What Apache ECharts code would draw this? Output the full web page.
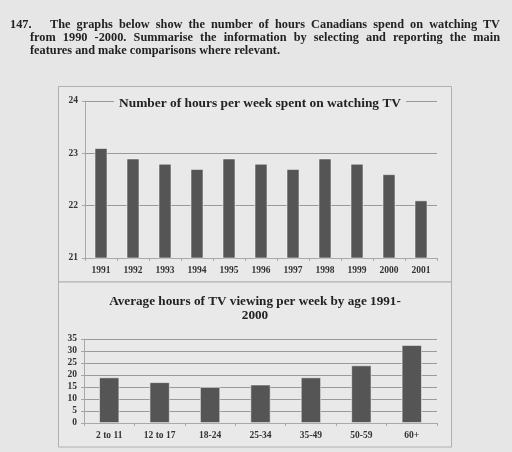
<!DOCTYPE html>
<html>
<head>
<meta charset="utf-8">
<script src="https://cdn.jsdelivr.net/npm/echarts@6/dist/echarts.min.js"></script>
<style>
  html, body { margin: 0; padding: 0; background: #e6e6e6; }
  #wrap { position: relative; width: 512px; height: 452px; overflow: hidden; }
  #chart { position: absolute; left: 0; top: 0; width: 512px; height: 452px; }
  .hdr { position: absolute; font-family: "Liberation Serif", serif; font-weight: bold; font-size: 12.3px; color: #222; white-space: nowrap; line-height: 13px; }
  .just { text-align: justify; text-align-last: justify; white-space: normal; }
</style>
</head>
<body>
<div id="wrap">
  <div id="chart"></div>
  <div class="hdr" style="left:10px; top:18px;">147.</div>
  <div class="hdr just" style="left:50px; top:18px; width:450px;">The graphs below show the number of hours Canadians spend on watching TV</div>
  <div class="hdr just" style="left:30px; top:31px; width:470px;">from 1990 -2000. Summarise the information by selecting and reporting the main</div>
  <div class="hdr" style="left:30px; top:44px;">features and make comparisons where relevant.</div>
</div>
<script>
const years = ['1991','1992','1993','1994','1995','1996','1997','1998','1999','2000','2001'];
const hoursByYear = [23.1, 22.9, 22.8, 22.7, 22.9, 22.8, 22.7, 22.9, 22.8, 22.6, 22.1];
const ageGroups = ['2 to 11','12 to 17','18-24','25-34','35-49','50-59','60+'];
const hoursByAge = [19, 17, 15, 16, 19, 24, 32.5];
const title1 = 'Number of hours per week spent on watching TV';
const title2 = 'Average hours of TV viewing per week by age 1991-\n2000';

const FONT = '"Liberation Serif", serif';
const INNER = '#e9e9e9';
const chart = echarts.init(document.getElementById('chart'), null, { renderer: 'canvas' });

const axisLabelY = { fontFamily: FONT, fontWeight: 'bold', fontSize: 9.5, color: '#333', margin: 7 };
const axisLabelX = { fontFamily: FONT, fontWeight: 'bold', fontSize: 9.5, color: '#333', margin: 8 };
const axisLine = { show: true, lineStyle: { color: '#a8a8a8', width: 1 } };
const axisTick = { show: true, length: 3, lineStyle: { color: '#a8a8a8' } };
const splitLine = { show: true, lineStyle: { color: '#9a9a9a', width: 1 } };
const barStyle = { color: '#555555', borderColor: 'rgba(245,245,245,0.7)', borderWidth: 0.8 };

chart.setOption({
  backgroundColor: 'transparent',
  animation: false,
  graphic: [
    { type: 'rect', shape: { x: 58.5, y: 86.5, width: 393, height: 195.5 }, style: { fill: INNER, stroke: '#b0b0b0', lineWidth: 1 }, z: -10 },
    { type: 'rect', shape: { x: 58.5, y: 282, width: 393, height: 165 }, style: { fill: INNER, stroke: '#b0b0b0', lineWidth: 1 }, z: -10 }
  ],
  title: [
    { text: title1, left: 255, top: 96, textAlign: 'center', padding: [1, 5],
      backgroundColor: INNER,
      textStyle: { fontFamily: FONT, fontWeight: 'bold', fontSize: 13.4, color: '#222' } },
    { text: title2, left: 255, top: 295, textAlign: 'center', padding: 0,
      textStyle: { fontFamily: FONT, fontWeight: 'bold', fontSize: 13.2, lineHeight: 13.5, color: '#222' } }
  ],
  grid: [
    { left: 85, right: 75, top: 101, bottom: 194, containLabel: false },
    { left: 84, right: 75, top: 339, bottom: 29, containLabel: false }
  ],
  xAxis: [
    { type: 'category', gridIndex: 0, data: years, axisLine, axisTick: { show: true, length: 3, alignWithLabel: false, lineStyle: { color: '#a8a8a8' } }, axisLabel: axisLabelX, splitLine: { show: false } },
    { type: 'category', gridIndex: 1, data: ageGroups, axisLine, axisTick: { show: true, length: 3, alignWithLabel: false, lineStyle: { color: '#a8a8a8' } }, axisLabel: axisLabelX, splitLine: { show: false } }
  ],
  yAxis: [
    { type: 'value', gridIndex: 0, min: 21, max: 24, interval: 1, axisLine, axisTick, axisLabel: axisLabelY, splitLine },
    { type: 'value', gridIndex: 1, min: 0, max: 35, interval: 5, axisLine, axisTick, axisLabel: axisLabelY, splitLine }
  ],
  series: [
    { type: 'bar', xAxisIndex: 0, yAxisIndex: 0, data: hoursByYear, barWidth: '40%', itemStyle: barStyle },
    { type: 'bar', xAxisIndex: 1, yAxisIndex: 1, data: hoursByAge, barWidth: '40%', itemStyle: barStyle }
  ]
});
</script>
</body>
</html>
